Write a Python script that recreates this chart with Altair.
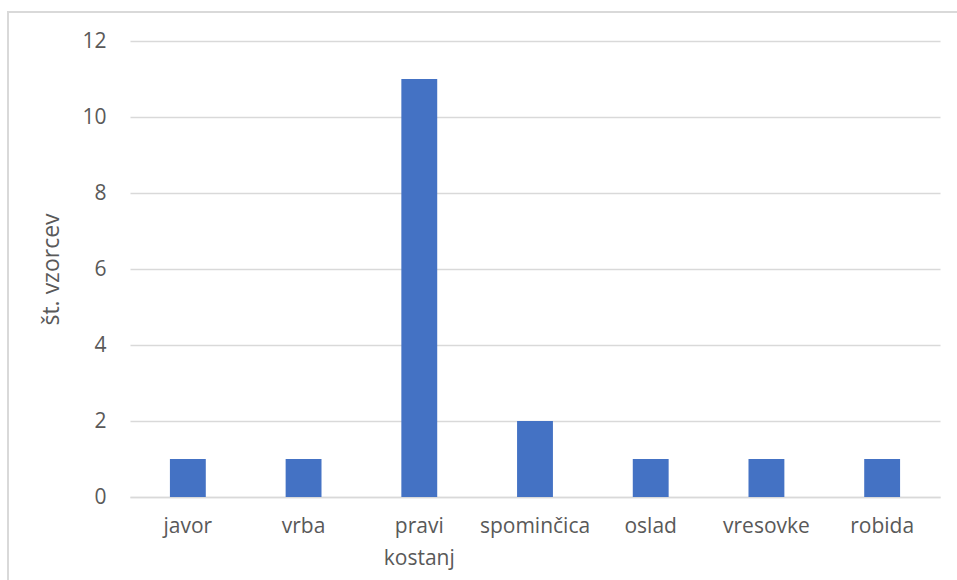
import altair as alt
import pandas as pd

# Number of samples per plant species
species = ["javor", "vrba", "pravi kostanj", "spominčica", "oslad", "vresovke", "robida"]
counts = [1, 1, 11, 2, 1, 1, 1]

df = pd.DataFrame({"vrsta": species, "st": counts})

FONT = "Open Sans"
TEXT = "#595959"
GRID = "#d9d9d9"
FS = 21

bars = alt.Chart(df).mark_bar(color="#4472C4").encode(
    x=alt.X(
        "vrsta:N",
        sort=species,
        title=None,
        scale=alt.Scale(paddingInner=0.69, paddingOuter=0.345),
        axis=alt.Axis(
            labelAngle=0,
            labelExpr="split(datum.label, ' ')",
            labelLineHeight=32,
            labelFontSize=FS,
            labelColor=TEXT,
            labelFont=FONT,
            labelPadding=18,
            ticks=False,
            grid=False,
            domainColor=GRID,
            domainWidth=1.5,
        ),
    ),
    y=alt.Y(
        "st:Q",
        title="št. vzorcev",
        scale=alt.Scale(domain=[0, 12]),
        axis=alt.Axis(
            values=[0, 2, 4, 6, 8, 10, 12],
            labelFontSize=FS,
            labelColor=TEXT,
            labelFont=FONT,
            labelPadding=24,
            ticks=False,
            domain=False,
            gridColor=GRID,
            gridWidth=1.3,
            titleFont=FONT,
            titleFontSize=23,
            titleFontWeight="normal",
            titleColor=TEXT,
            titlePadding=18,
        ),
    ),
)

# Outer frame around the chart area
frame = alt.Chart(df).mark_rect(fill=None, stroke=GRID, strokeWidth=1.5, clip=False).encode(
    x=alt.value(-122),
    x2=alt.value(900),
    y=alt.value(-29),
    y2=alt.value(560),
)

chart = alt.layer(frame, bars).properties(
    width=810,
    height=456,
    background="white",
    autosize=alt.AutoSizeParams(type="none"),
    padding={"left": 130, "top": 41, "right": 17, "bottom": 83},
).configure_view(strokeWidth=0, stroke="transparent")

chart.save("out.html", embed_options={"renderer": "svg", "actions": False})
